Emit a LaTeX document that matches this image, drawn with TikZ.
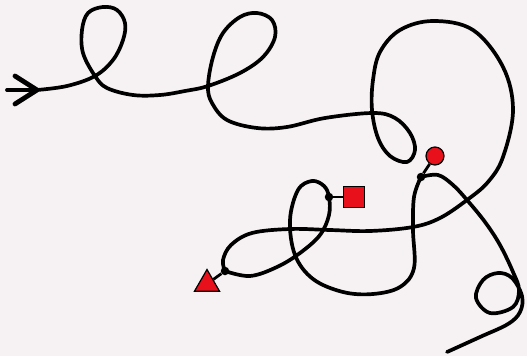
\documentclass[tikz,border=0pt]{standalone}
\usetikzlibrary{shapes.geometric}
\definecolor{bg}{RGB}{246,242,244}
\definecolor{mred}{RGB}{232,16,26}
\begin{document}
\begin{tikzpicture}[x=1pt,y=-1pt,
  rope/.style={line width=3.7pt, line cap=round, line join=round},
  marker/.style={draw=black, line width=1.2pt, fill=mred, inner sep=0pt},
  joint/.style={circle, fill=black, inner sep=0pt, minimum size=8.5pt},
  stem/.style={line width=2.8pt}]
\fill[bg] (0,0) rectangle (527,356);
\useasboundingbox (0,0) rectangle (527,356);
% key positions
\coordinate (start) at (7,90);
\coordinate (tip) at (37,90);
\coordinate (wingA) at (15,76);
\coordinate (wingB) at (15,104);
\coordinate (tjc) at (225,271);
\coordinate (sjc) at (329,197);
\coordinate (cjc) at (421,177);
\coordinate (end) at (447,352);
% the rope
\draw[rope] plot[smooth, tension=0.6] coordinates {(tip) (67,86) (95,76) (113,60) (123,40) (125,23) (117,10) (103,7) (88,13) (82,30) (83,53) (95,76) (107,88) (133,95) (160,95) (185,91) (208,86) (240,73) (263,57) (275,37) (272,20) (257,13) (240,17) (223,33) (213,57) (208,86) (212,103) (227,120) (257,128) (287,127) (325,118) (373,113) (395,118) (410,133) (415,150) (407,162) (390,156) (378,138) (372,110) (373,80) (380,52) (400,30) (433,21) (473,30) (503,67) (513,110) (503,157) (488,182) (467,200) (440,218) (413,227) (370,231) (330,230) (290,229) (252,233) (231,245) (223,260) (tjc)};
\draw[rope] plot[smooth, tension=0.6] coordinates {(tjc) (250,276) (277,267) (300,253) (320,235) (329,215) (sjc) (324,186) (312,181) (298,190) (290,220) (295,255) (313,279) (343,292) (373,294) (400,287) (414,268) (413,230) (414,197) (cjc)};
\draw[rope] plot[smooth, tension=0.6] coordinates {(cjc) (438,175) (453,185) (467,200) (485,222) (500,245) (513,272) (519,290) (513,307) (490,313) (476,298) (483,280) (498,273) (512,278) (522,296) (520,312) (508,324) (480,337) (end)};
% arrow at the start
\draw[rope] (start) -- (tip);
\draw[line width=4.8pt, line cap=round, line join=round] (wingA) -- (tip) -- (wingB);
% markers
\node[marker, regular polygon, regular polygon sides=3, minimum size=29pt] (tri) at (207,284) {};
\node[marker, minimum size=21pt] (sq) at (354,197) {};
\node[marker, circle, minimum size=18pt] (ci) at (435,156) {};
\node[joint] (tj) at (tjc) {};
\node[joint] (sj) at (sjc) {};
\node[joint] (cj) at (cjc) {};
\draw[stem] (tj) -- (tri);
\draw[stem] (sj) -- (sq);
\draw[stem] (cj) -- (ci);
\end{tikzpicture}
\end{document}
